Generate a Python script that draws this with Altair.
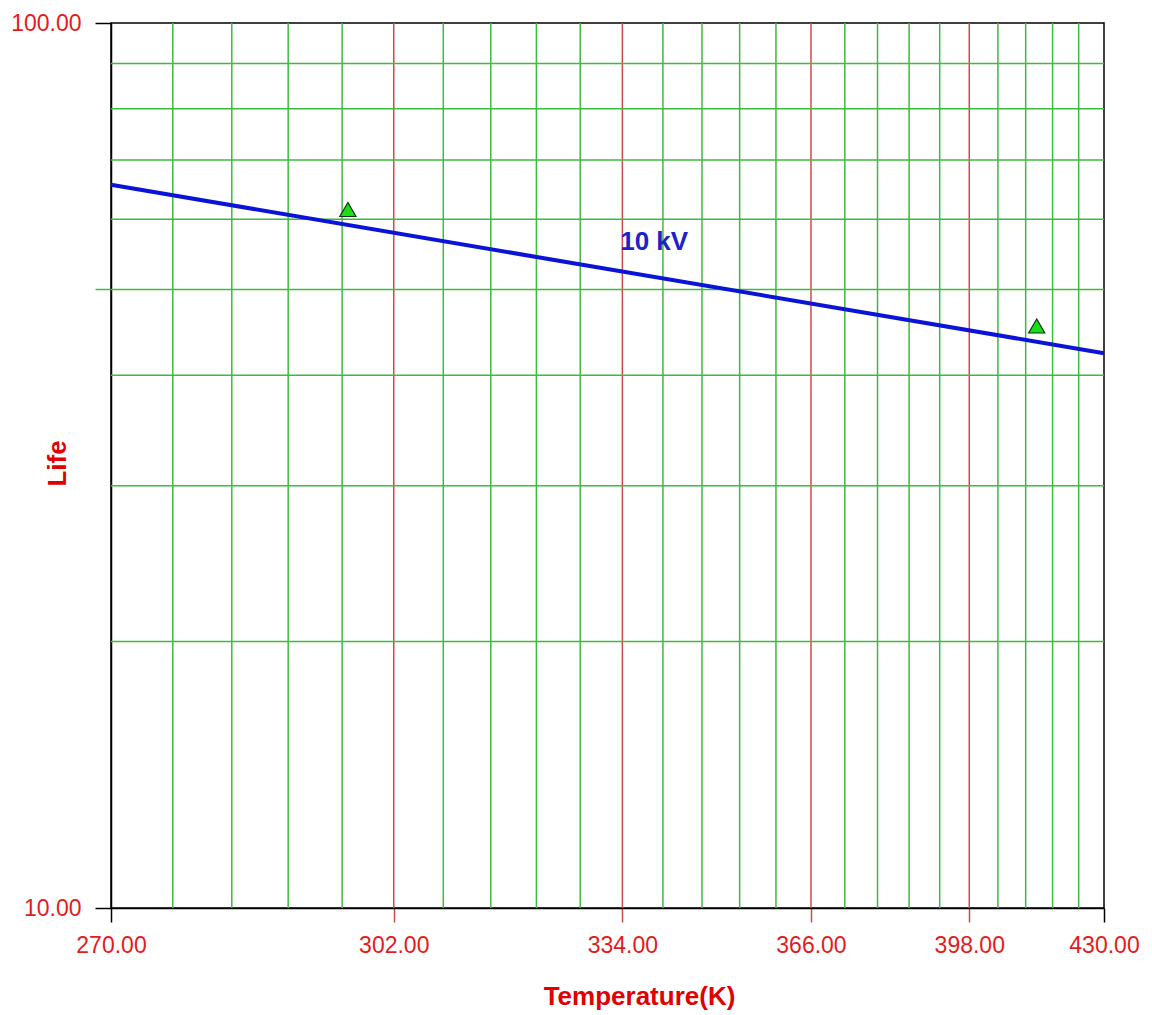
import altair as alt
import pandas as pd

# Arrhenius life line at 10 kV (straight in 1/T vs. log-life space)
line_temp = [270.0, 430.0]
line_life = [65.65, 42.35]

# Observed test points
obs_temp = [296.3, 413.4]
obs_life = [61.55, 45.46]

# Curve label
label_temp = [339.0]
label_life = [56.6]
label_text = ["10 kV"]

# Grid positions
major_temp = [302.0, 334.0, 366.0, 398.0]
minor_temp = [276.4, 282.8, 289.2, 295.6,
              308.4, 314.8, 321.2, 327.6,
              340.4, 346.8, 353.2, 359.6,
              372.4, 378.8, 385.2, 391.6,
              404.4, 410.8, 417.2, 423.6]
life_grid = [20, 30, 40, 50, 60, 70, 80, 90]

# Axis tick positions
x_ticks = [270.0, 302.0, 334.0, 366.0, 398.0, 430.0]
y_ticks = [10, 50, 100]

FONT = "Arial, Liberation Sans, sans-serif"
LABEL_RED = "#e31b1b"
TITLE_RED = "#e00000"
GRID_GREEN = "#3dbb3d"
GRID_RED = "#cf4a4a"
LINE_BLUE = "#0a14d6"

inv = "1 / datum.T"

x_scale = alt.Scale(type="linear", domain=[1 / 430.0, 1 / 270.0], reverse=True, nice=False, zero=False)
y_scale = alt.Scale(type="log", domain=[10, 100], nice=False)

# inner temperature ticks continue the red grid lines below the frame
x_tick_color = {
    "condition": {
        "test": "abs(1 / datum.value - 270) > 0.5 && abs(1 / datum.value - 430) > 0.5",
        "value": GRID_RED,
    },
    "value": "black",
}
# the 50 tick continues its green grid line to the left
y_tick_color = {
    "condition": {"test": "datum.value == 50", "value": GRID_GREEN},
    "value": "black",
}

x_axis = alt.Axis(
    values=[1 / t for t in x_ticks],
    labelExpr="format(1 / datum.value, '.2f')",
    title="Temperature(K)",
    grid=False,
    domainColor="black",
    domainWidth=1.5,
    tickColor=x_tick_color,
    tickSize=14,
    tickWidth=1.5,
    labelPadding=12,
    labelFlush=False,
    labelOverlap=False,
    labelFont=FONT,
    labelFontSize=23,
    labelColor=LABEL_RED,
    titleFont=FONT,
    titleFontSize=26,
    titleFontWeight="bold",
    titleColor=TITLE_RED,
    titleX=528,
    titleY=96,
    titleBaseline="alphabetic",
    titleAlign="center",
)

y_axis = alt.Axis(
    values=y_ticks,
    labelExpr="datum.value == 50 ? '' : format(datum.value, '.2f')",
    title="Life",
    grid=False,
    domainColor="black",
    domainWidth=1.5,
    tickColor=y_tick_color,
    tickSize=16,
    tickWidth=1.5,
    labelPadding=14,
    labelFlush=False,
    labelOverlap=False,
    labelFont=FONT,
    labelFontSize=23,
    labelColor=LABEL_RED,
    titleFont=FONT,
    titleFontSize=26,
    titleFontWeight="bold",
    titleColor=TITLE_RED,
    titleAngle=270,
    titleX=-46,
    titleY=440,
    titleBaseline="alphabetic",
    titleAlign="center",
)

X = alt.X("inv:Q", scale=x_scale, axis=x_axis)
Y = alt.Y("life:Q", scale=y_scale, axis=y_axis)

minor_df = pd.DataFrame({"T": minor_temp})
major_df = pd.DataFrame({"T": major_temp})
hgrid_df = pd.DataFrame({"life": life_grid})
line_df = pd.DataFrame({"T": line_temp, "life": line_life})
obs_df = pd.DataFrame({"T": obs_temp, "life": obs_life})
label_df = pd.DataFrame({"T": label_temp, "life": label_life, "text": label_text})

minor_rules = alt.Chart(minor_df).transform_calculate(inv=inv).mark_rule(
    color=GRID_GREEN, strokeWidth=1.5
).encode(x=X)

major_rules = alt.Chart(major_df).transform_calculate(inv=inv).mark_rule(
    color=GRID_RED, strokeWidth=1.5
).encode(x=X)

h_rules = alt.Chart(hgrid_df).mark_rule(
    color=GRID_GREEN, strokeWidth=1.5
).encode(y=Y)

life_line = alt.Chart(line_df).transform_calculate(inv=inv).mark_line(
    color=LINE_BLUE, strokeWidth=4
).encode(x=X, y=Y)

points = alt.Chart(obs_df).transform_calculate(inv=inv).mark_point(
    shape="triangle-up", size=260, filled=True, fill="#14e014",
    stroke="#1a2e1a", strokeWidth=1.2, opacity=1
).encode(x=X, y=Y)

label = alt.Chart(label_df).transform_calculate(inv=inv).mark_text(
    font=FONT, fontSize=26, fontWeight="bold", color="#1a22c8",
    align="center", baseline="middle"
).encode(x=X, y=Y, text="text:N")

chart = alt.layer(
    minor_rules, major_rules, h_rules, life_line, points, label
).properties(
    width=993,
    height=885,
    autosize=alt.AutoSizeParams(type="none"),
    padding={"left": 111, "top": 23, "right": 48, "bottom": 107},
    background="white",
).configure_view(
    stroke="black", strokeWidth=1.5
)

chart.save("out.html", embed_options={"renderer": "svg", "actions": False})
